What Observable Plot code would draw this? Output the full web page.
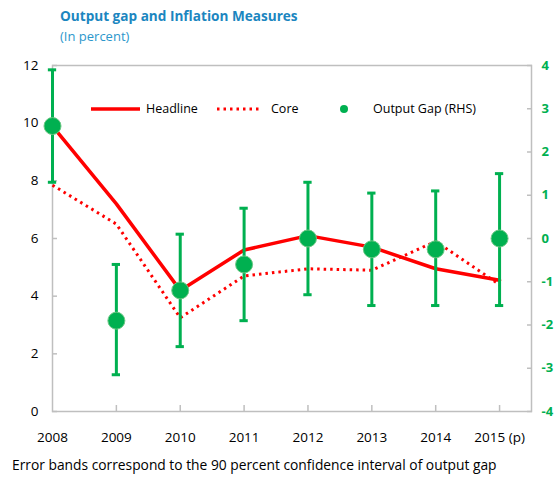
<!DOCTYPE html>
<html><head><meta charset="utf-8">
<script src="https://cdn.jsdelivr.net/npm/d3@7"></script>
<script src="https://cdn.jsdelivr.net/npm/@observablehq/plot@0.6"></script>
<style>
body{margin:0;width:555px;height:478px;position:relative;font-family:"Open Sans",sans-serif;background:#fff;overflow:hidden;color:#000}
#title{position:absolute;left:60px;top:6px;font-weight:bold;font-size:13.6px;color:#1b86c0;white-space:nowrap}
#sub{position:absolute;left:60px;top:27px;font-size:13px;color:#2c97cc;white-space:nowrap}
#chart{position:absolute;left:0;top:52px}
.lg{position:absolute;font-size:12.5px;white-space:nowrap;line-height:16px}
#cap{position:absolute;left:12px;top:455px;font-size:13.8px;white-space:nowrap}
</style>
</head><body>
<div id="title">Output gap and Inflation Measures</div>
<div id="sub">(In percent)</div>
<div id="chart"></div>
<div id="legend"></div>
<div id="cap">Error bands correspond to the 90 percent confidence interval of output gap</div>
<script>
const years = [2008, 2009, 2010, 2011, 2012, 2013, 2014, 2015];
const yearLabels = ["2008", "2009", "2010", "2011", "2012", "2013", "2014", "2015 (p)"];
const headline = [9.9, 7.2, 4.2, 5.6, 6.1, 5.7, 4.95, 4.55];
const core = [7.85, 6.5, 3.25, 4.7, 4.95, 4.9, 5.9, 4.4];
const gap = [2.6, -1.9, -1.2, -0.6, 0.0, -0.25, -0.25, 0.0];
const gapLow = [1.3, -3.15, -2.5, -1.9, -1.3, -1.55, -1.55, -1.55];
const gapHigh = [3.9, -0.6, 0.1, 0.7, 1.3, 1.05, 1.1, 1.5];
const leftTicks = [0, 2, 4, 6, 8, 10, 12];
const rightTicks = [-4, -3, -2, -1, 0, 1, 2, 3, 4];
const seriesNames = ["Headline", "Core", "Output Gap (RHS)"];

const RED = "#ff0000", GREEN = "#00b050", AXIS = "#bfbfbf";
// map right-axis (output gap, -4..4) onto left-axis (0..12)
const toLeft = g => (g + 4) * 1.5;
const fromLeft = v => v / 1.5 - 4;

const rows = years.map((y, i) => ({
  year: y, headline: headline[i], core: core[i],
  gap: toLeft(gap[i]), lo: toLeft(gapLow[i]), hi: toLeft(gapHigh[i])
}));
const capW = 0.065;

const chart = Plot.plot({
  width: 555, height: 400,
  marginLeft: 52, marginRight: 24, marginTop: 13, marginBottom: 41,
  style: {fontFamily: "'Open Sans', sans-serif", fontSize: "13px", color: "#000", background: "transparent"},
  x: {domain: [2008, 2015.5], label: null},
  y: {domain: [0, 12], label: null},
  marks: [
    Plot.frame({stroke: AXIS, strokeWidth: 1.5}),
    // left axis
    Plot.axisY({anchor: "left", label: null, ticks: leftTicks, tickSize: 0, tickPadding: 14, tickFormat: d => String(d), fontSize: 13.5}),
    Plot.axisY({anchor: "left", label: null, ticks: leftTicks, tickSize: -5, stroke: AXIS, strokeWidth: 1.5, tickFormat: () => ""}),
    // right axis
    Plot.axisY({anchor: "right", label: null, ticks: rightTicks.map(toLeft), tickSize: 0, tickPadding: 10,
      tickFormat: v => String(Math.round(fromLeft(v))), fill: GREEN, fontWeight: "bold", fontSize: 13}),
    Plot.axisY({anchor: "right", label: null, ticks: rightTicks.map(toLeft), tickSize: -5, stroke: AXIS, strokeWidth: 1.5, tickFormat: () => ""}),
    // x axis
    Plot.axisX({anchor: "bottom", label: null, ticks: years, tickSize: 0, tickPadding: 21,
      tickFormat: d => yearLabels[years.indexOf(d)], fontSize: 13.5}),
    Plot.axisX({anchor: "bottom", label: null, ticks: years.slice(1), tickSize: -6, stroke: AXIS, strokeWidth: 1.5, tickFormat: () => ""}),
    // lines
    Plot.line(rows, {x: "year", y: "core", stroke: RED, strokeWidth: 3, strokeDasharray: "2.5,4", strokeLinecap: "butt"}),
    Plot.line(rows, {x: "year", y: "headline", stroke: RED, strokeWidth: 3.5}),
    // error bars
    Plot.ruleX(rows, {x: "year", y1: "lo", y2: "hi", stroke: GREEN, strokeWidth: 3}),
    Plot.ruleY(rows, {y: "lo", x1: d => d.year - capW, x2: d => d.year + capW, stroke: GREEN, strokeWidth: 3}),
    Plot.ruleY(rows, {y: "hi", x1: d => d.year - capW, x2: d => d.year + capW, stroke: GREEN, strokeWidth: 3}),
    Plot.dot(rows, {x: "year", y: "gap", r: 8.5, fill: GREEN, stroke: "#6cc784", strokeWidth: 1})
  ]
});
document.getElementById("chart").appendChild(chart);

// legend
const lg = document.getElementById("legend");
lg.innerHTML = `
<svg style="position:absolute;left:90px;top:104px" width="52" height="10"><line x1="1" y1="5" x2="50" y2="5" stroke="${RED}" stroke-width="3.5"/></svg>
<span class="lg" style="left:146px;top:101px">${seriesNames[0]}</span>
<svg style="position:absolute;left:216px;top:104px" width="48" height="10"><line x1="1" y1="5" x2="46" y2="5" stroke="${RED}" stroke-width="3" stroke-dasharray="2.5,4"/></svg>
<span class="lg" style="left:271px;top:101px">${seriesNames[1]}</span>
<svg style="position:absolute;left:338px;top:103px" width="12" height="12"><circle cx="6" cy="6" r="4" fill="${GREEN}"/></svg>
<span class="lg" style="left:373px;top:101px">${seriesNames[2]}</span>`;
</script>
</body></html>
